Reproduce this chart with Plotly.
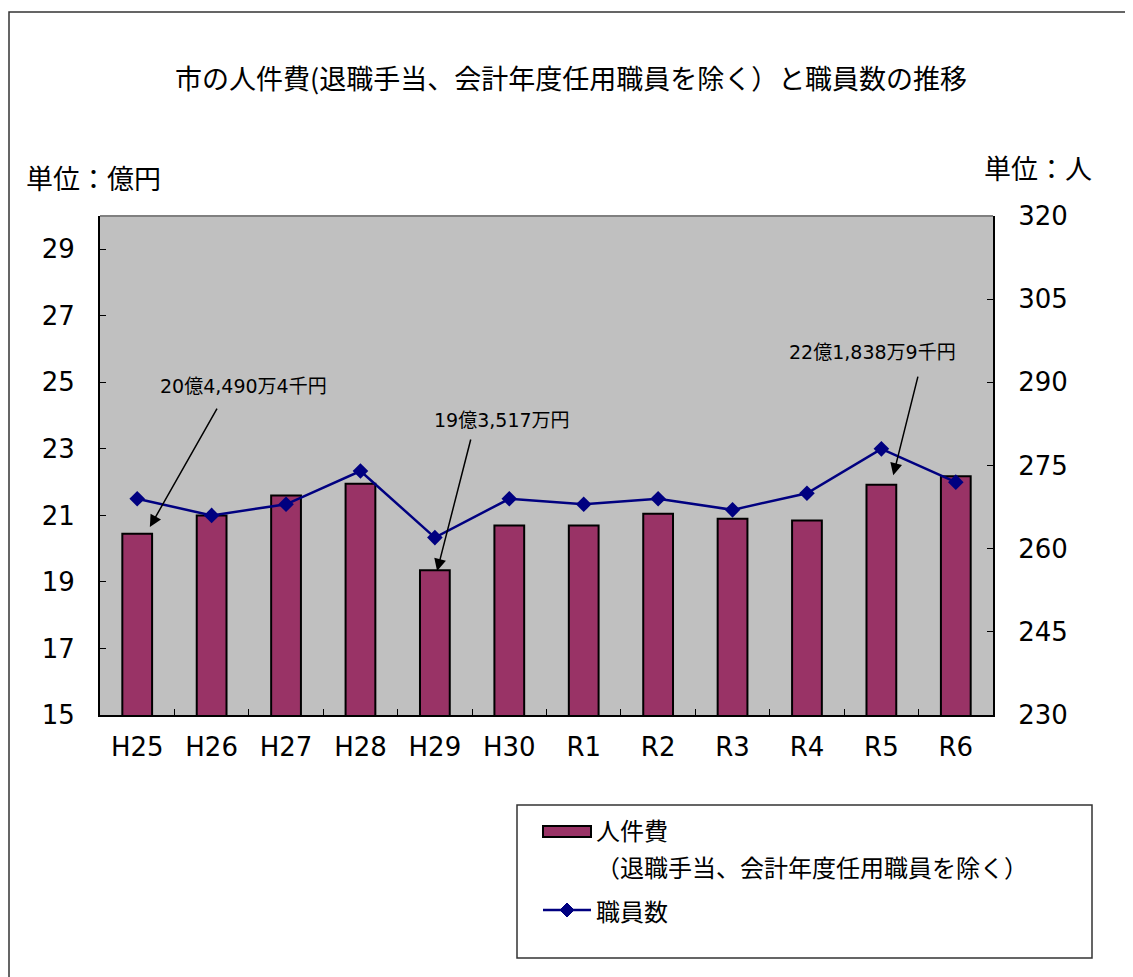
import plotly.graph_objects as go

categories = ["H25", "H26", "H27", "H28", "H29", "H30", "R1", "R2", "R3", "R4", "R5", "R6"]
personnel_cost = [20.45, 21.0, 21.6, 21.95, 19.35, 20.7, 20.7, 21.05, 20.9, 20.85, 21.92, 22.18]
staff_count = [269, 266, 268, 274, 262, 269, 268, 269, 267, 270, 278, 272]
left_ticks = [15, 17, 19, 21, 23, 25, 27, 29]
right_ticks = [230, 245, 260, 275, 290, 305, 320]
bar_name = "人件費"
bar_name_note = "（退職手当、会計年度任用職員を除く）"
line_name = "職員数"
callout_texts = ["20億4,490万4千円", "19億3,517万円", "22億1,838万9千円"]

FONT = "Noto Sans CJK JP"
LATIN = "DejaVu Sans, Noto Sans CJK JP"
BAR_COLOR = "#993366"
LINE_COLOR = "#000080"

# page-pixel -> paper helpers (plot area spans page x 100..993, y 216..715)
def px(x):
    return (x - 100) / 893

def py(y):
    return (715 - y) / 499

fig = go.Figure()
fig.add_trace(go.Bar(
    x=categories, y=personnel_cost, name=bar_name,
    marker=dict(color=BAR_COLOR, line=dict(color="#000000", width=2)),
    width=0.4, yaxis="y",
))
fig.add_trace(go.Scatter(
    x=categories, y=staff_count, name=line_name, mode="lines+markers",
    line=dict(color=LINE_COLOR, width=2.5),
    marker=dict(symbol="diamond", size=12, color=LINE_COLOR),
    yaxis="y2",
))

fig.update_layout(
    width=1133, height=977,
    margin=dict(l=92, r=148, t=208, b=270),
    paper_bgcolor="white", plot_bgcolor="#C0C0C0",
    font=dict(family=FONT, color="#000000", size=24),
    showlegend=False,
    xaxis=dict(type="category", range=[-0.5, 11.5], tickson="boundaries",
               ticks="inside", ticklen=6, tickcolor="#000", showline=True,
               linecolor="#000", linewidth=2, showgrid=False,
               tickfont=dict(size=26, family=LATIN), ticklabelstandoff=8),
    yaxis=dict(range=[15, 30], tickvals=left_ticks, ticks="inside", ticklen=6,
               tickcolor="#000", showline=True, linecolor="#000", linewidth=2,
               showgrid=False, zeroline=False,
               tickfont=dict(size=26, family=LATIN), ticklabelstandoff=18),
    yaxis2=dict(range=[230, 320], tickvals=right_ticks, overlaying="y", side="right",
                ticks="inside", ticklen=6, tickcolor="#000", showline=True,
                linecolor="#000", linewidth=2, showgrid=False, zeroline=False,
                tickfont=dict(size=26, family=LATIN), ticklabelstandoff=18),
)

# title and unit labels
fig.add_annotation(text="市の人件費(退職手当、会計年度任用職員を除く）と職員数の推移",
                   xref="paper", yref="paper", x=px(571), y=py(77), showarrow=False,
                   xanchor="center", yanchor="middle", font=dict(size=27, family=FONT))
fig.add_annotation(text="単位：億円", xref="paper", yref="paper", x=px(24), y=py(177),
                   showarrow=False, xanchor="left", yanchor="middle", font=dict(size=27, family=FONT))
fig.add_annotation(text="単位：人", xref="paper", yref="paper", x=px(982), y=py(168),
                   showarrow=False, xanchor="left", yanchor="middle", font=dict(size=27, family=FONT))

# callout arrows (head in data coords, tail offset in pixels)
arrows = [(0.17, 20.65, 68, -120), (4.03, 19.33, 34, -133), (10.16, 22.21, 25, -100)]
for hx, hy, ax, ay in arrows:
    fig.add_annotation(x=hx, y=hy, xref="x", yref="y", ax=ax, ay=ay, text="",
                       showarrow=True, arrowhead=2, arrowsize=1.6, arrowwidth=1.5,
                       arrowcolor="#000")
callout_pos = [(243, 386), (502, 420), (872, 352)]
for t, (cx, cy) in zip(callout_texts, callout_pos):
    fig.add_annotation(text=t, xref="paper", yref="paper", x=px(cx), y=py(cy),
                       showarrow=False, xanchor="center", yanchor="middle",
                       font=dict(size=19, family=LATIN))

# plot area top border, outer border, legend box
fig.add_shape(type="line", xref="paper", yref="paper", x0=0, x1=1, y0=1, y1=1,
              line=dict(color="#808080", width=2))
fig.add_shape(type="rect", xref="paper", yref="paper",
              x0=px(9), x1=px(1150), y0=py(995), y1=py(12),
              line=dict(color="#333333", width=1.5), layer="below")
fig.add_shape(type="rect", xref="paper", yref="paper",
              x0=px(517), x1=px(1092), y0=py(958), y1=py(805),
              line=dict(color="#333333", width=1.5))

# legend drawn manually
fig.add_shape(type="rect", xref="paper", yref="paper",
              x0=px(543), x1=px(591), y0=py(837), y1=py(826),
              fillcolor=BAR_COLOR, line=dict(color="#000", width=2))
fig.add_shape(type="line", xref="paper", yref="paper",
              x0=px(543), x1=px(591), y0=py(910), y1=py(910),
              line=dict(color=LINE_COLOR, width=2.5))
fig.add_shape(type="path", xref="paper", yref="paper",
              path=(f"M {px(567)} {py(903)} L {px(574)} {py(910)} "
                    f"L {px(567)} {py(917)} L {px(560)} {py(910)} Z"),
              fillcolor=LINE_COLOR, line=dict(color=LINE_COLOR, width=1))
fig.add_annotation(text=bar_name, xref="paper", yref="paper", x=px(594), y=py(829),
                   showarrow=False, xanchor="left", yanchor="middle", font=dict(size=24, family=FONT))
fig.add_annotation(text=bar_name_note, xref="paper", yref="paper", x=px(594), y=py(866),
                   showarrow=False, xanchor="left", yanchor="middle", font=dict(size=24, family=FONT))
fig.add_annotation(text=line_name, xref="paper", yref="paper", x=px(594), y=py(910),
                   showarrow=False, xanchor="left", yanchor="middle", font=dict(size=24, family=FONT))

fig.write_html("out.html")
